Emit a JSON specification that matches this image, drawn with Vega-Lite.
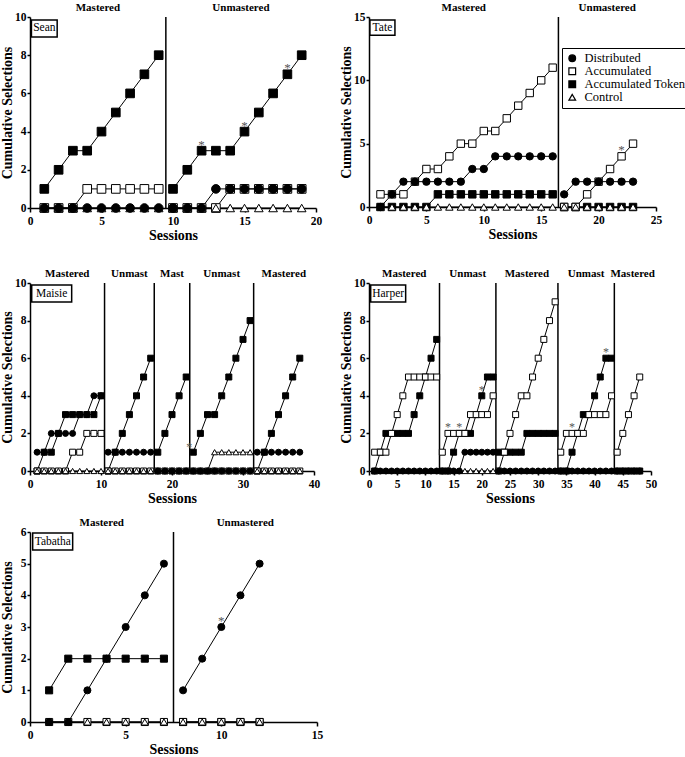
{
"$schema": "https://vega.github.io/schema/vega-lite/v6.json",
"background": "white",
"padding": {"left": 0, "top": 2, "right": 0, "bottom": 0},
"datasets": {
"ph": [
{"p":"Se","t":"Mastered","lo":0,"hi":9.5},{"p":"Se","t":"Unmastered","lo":9.5,"hi":20},
{"p":"Ta","t":"Mastered","lo":0,"hi":16.5},{"p":"Ta","t":"Unmastered","lo":16.5,"hi":25},
{"p":"Ma","t":"Mastered","lo":0,"hi":10.5},{"p":"Ma","t":"Unmast","lo":10.5,"hi":17.5},{"p":"Ma","t":"Mast","lo":17.5,"hi":22.5},{"p":"Ma","t":"Unmast","lo":22.5,"hi":31.5},{"p":"Ma","t":"Mastered","lo":31.5,"hi":40},
{"p":"Ha","t":"Mastered","lo":0,"hi":12.5},{"p":"Ha","t":"Unmast","lo":12.5,"hi":22.5},{"p":"Ha","t":"Mastered","lo":22.5,"hi":33.5},{"p":"Ha","t":"Unmast","lo":33.5,"hi":43.5},{"p":"Ha","t":"Mastered","lo":43.5,"hi":50},
{"p":"Tb","t":"Mastered","lo":0,"hi":7.5},{"p":"Tb","t":"Unmastered","lo":7.5,"hi":15}
],
"Se": [
{"g":1,"s":1,"k":"T","v":1},{"g":1,"s":2,"k":"T","v":2},{"g":1,"s":3,"k":"T","v":3},{"g":1,"s":4,"k":"T","v":3},{"g":1,"s":5,"k":"T","v":4},{"g":1,"s":6,"k":"T","v":5},{"g":1,"s":7,"k":"T","v":6},{"g":1,"s":8,"k":"T","v":7},{"g":1,"s":9,"k":"T","v":8},
{"g":2,"s":10,"k":"T","v":1},{"g":2,"s":11,"k":"T","v":2},{"g":2,"s":12,"k":"T","v":3,"a":1},{"g":2,"s":13,"k":"T","v":3},{"g":2,"s":14,"k":"T","v":3},{"g":2,"s":15,"k":"T","v":4,"a":1},{"g":2,"s":16,"k":"T","v":5},{"g":2,"s":17,"k":"T","v":6},{"g":2,"s":18,"k":"T","v":7,"a":1},{"g":2,"s":19,"k":"T","v":8},
{"g":1,"s":1,"k":"A","v":0},{"g":1,"s":2,"k":"A","v":0},{"g":1,"s":3,"k":"A","v":0},{"g":1,"s":4,"k":"A","v":1},{"g":1,"s":5,"k":"A","v":1},{"g":1,"s":6,"k":"A","v":1},{"g":1,"s":7,"k":"A","v":1},{"g":1,"s":8,"k":"A","v":1},{"g":1,"s":9,"k":"A","v":1},
{"g":2,"s":10,"k":"A","v":0},{"g":2,"s":11,"k":"A","v":0},{"g":2,"s":12,"k":"A","v":0},{"g":2,"s":13,"k":"A","v":0},{"g":2,"s":14,"k":"A","v":1},{"g":2,"s":15,"k":"A","v":1},{"g":2,"s":16,"k":"A","v":1},{"g":2,"s":17,"k":"A","v":1},{"g":2,"s":18,"k":"A","v":1},{"g":2,"s":19,"k":"A","v":1},
{"g":1,"s":1,"k":"C","v":0},{"g":1,"s":2,"k":"C","v":0},{"g":1,"s":3,"k":"C","v":0},{"g":1,"s":4,"k":"C","v":0},{"g":1,"s":5,"k":"C","v":0},{"g":1,"s":6,"k":"C","v":0},{"g":1,"s":7,"k":"C","v":0},{"g":1,"s":8,"k":"C","v":0},{"g":1,"s":9,"k":"C","v":0},
{"g":2,"s":10,"k":"C","v":0},{"g":2,"s":11,"k":"C","v":0},{"g":2,"s":12,"k":"C","v":0},{"g":2,"s":13,"k":"C","v":0},{"g":2,"s":14,"k":"C","v":0},{"g":2,"s":15,"k":"C","v":0},{"g":2,"s":16,"k":"C","v":0},{"g":2,"s":17,"k":"C","v":0},{"g":2,"s":18,"k":"C","v":0},{"g":2,"s":19,"k":"C","v":0},
{"g":1,"s":1,"k":"D","v":0},{"g":1,"s":2,"k":"D","v":0},{"g":1,"s":3,"k":"D","v":0},{"g":1,"s":4,"k":"D","v":0},{"g":1,"s":5,"k":"D","v":0},{"g":1,"s":6,"k":"D","v":0},{"g":1,"s":7,"k":"D","v":0},{"g":1,"s":8,"k":"D","v":0},{"g":1,"s":9,"k":"D","v":0},
{"g":2,"s":10,"k":"D","v":0},{"g":2,"s":11,"k":"D","v":0},{"g":2,"s":12,"k":"D","v":0},{"g":2,"s":13,"k":"D","v":1},{"g":2,"s":14,"k":"D","v":1},{"g":2,"s":15,"k":"D","v":1},{"g":2,"s":16,"k":"D","v":1},{"g":2,"s":17,"k":"D","v":1},{"g":2,"s":18,"k":"D","v":1},{"g":2,"s":19,"k":"D","v":1}
],
"Ta": [
{"g":1,"s":1,"k":"T","v":0},{"g":1,"s":2,"k":"T","v":0},{"g":1,"s":3,"k":"T","v":0},{"g":1,"s":4,"k":"T","v":0},{"g":1,"s":5,"k":"T","v":0},{"g":1,"s":6,"k":"T","v":1},{"g":1,"s":7,"k":"T","v":1},{"g":1,"s":8,"k":"T","v":1},{"g":1,"s":9,"k":"T","v":1},{"g":1,"s":10,"k":"T","v":1},{"g":1,"s":11,"k":"T","v":1},{"g":1,"s":12,"k":"T","v":1},{"g":1,"s":13,"k":"T","v":1},{"g":1,"s":14,"k":"T","v":1},{"g":1,"s":15,"k":"T","v":1},{"g":1,"s":16,"k":"T","v":1},
{"g":2,"s":17,"k":"T","v":0},{"g":2,"s":18,"k":"T","v":0},{"g":2,"s":19,"k":"T","v":0},{"g":2,"s":20,"k":"T","v":0},{"g":2,"s":21,"k":"T","v":0},{"g":2,"s":22,"k":"T","v":0},{"g":2,"s":23,"k":"T","v":0},
{"g":1,"s":1,"k":"A","v":1},{"g":1,"s":2,"k":"A","v":1},{"g":1,"s":3,"k":"A","v":1},{"g":1,"s":4,"k":"A","v":2},{"g":1,"s":5,"k":"A","v":3},{"g":1,"s":6,"k":"A","v":3},{"g":1,"s":7,"k":"A","v":4},{"g":1,"s":8,"k":"A","v":5},{"g":1,"s":9,"k":"A","v":5},{"g":1,"s":10,"k":"A","v":6},{"g":1,"s":11,"k":"A","v":6},{"g":1,"s":12,"k":"A","v":7},{"g":1,"s":13,"k":"A","v":8},{"g":1,"s":14,"k":"A","v":9},{"g":1,"s":15,"k":"A","v":10},{"g":1,"s":16,"k":"A","v":11},
{"g":2,"s":17,"k":"A","v":0},{"g":2,"s":18,"k":"A","v":0},{"g":2,"s":19,"k":"A","v":1},{"g":2,"s":20,"k":"A","v":2},{"g":2,"s":21,"k":"A","v":3},{"g":2,"s":22,"k":"A","v":4,"a":1},{"g":2,"s":23,"k":"A","v":5},
{"g":1,"s":1,"k":"C","v":0},{"g":1,"s":2,"k":"C","v":0},{"g":1,"s":3,"k":"C","v":0},{"g":1,"s":4,"k":"C","v":0},{"g":1,"s":5,"k":"C","v":0},{"g":1,"s":6,"k":"C","v":0},{"g":1,"s":7,"k":"C","v":0},{"g":1,"s":8,"k":"C","v":0},{"g":1,"s":9,"k":"C","v":0},{"g":1,"s":10,"k":"C","v":0},{"g":1,"s":11,"k":"C","v":0},{"g":1,"s":12,"k":"C","v":0},{"g":1,"s":13,"k":"C","v":0},{"g":1,"s":14,"k":"C","v":0},{"g":1,"s":15,"k":"C","v":0},{"g":1,"s":16,"k":"C","v":0},
{"g":2,"s":17,"k":"C","v":0},{"g":2,"s":18,"k":"C","v":0},{"g":2,"s":19,"k":"C","v":0},{"g":2,"s":20,"k":"C","v":0},{"g":2,"s":21,"k":"C","v":0},{"g":2,"s":22,"k":"C","v":0},{"g":2,"s":23,"k":"C","v":0},
{"g":1,"s":1,"k":"D","v":0},{"g":1,"s":2,"k":"D","v":1},{"g":1,"s":3,"k":"D","v":2},{"g":1,"s":4,"k":"D","v":2},{"g":1,"s":5,"k":"D","v":2},{"g":1,"s":6,"k":"D","v":2},{"g":1,"s":7,"k":"D","v":2},{"g":1,"s":8,"k":"D","v":2},{"g":1,"s":9,"k":"D","v":3},{"g":1,"s":10,"k":"D","v":3},{"g":1,"s":11,"k":"D","v":4},{"g":1,"s":12,"k":"D","v":4},{"g":1,"s":13,"k":"D","v":4},{"g":1,"s":14,"k":"D","v":4},{"g":1,"s":15,"k":"D","v":4},{"g":1,"s":16,"k":"D","v":4},
{"g":2,"s":17,"k":"D","v":1},{"g":2,"s":18,"k":"D","v":2},{"g":2,"s":19,"k":"D","v":2},{"g":2,"s":20,"k":"D","v":2},{"g":2,"s":21,"k":"D","v":2},{"g":2,"s":22,"k":"D","v":2},{"g":2,"s":23,"k":"D","v":2}
],
"Ma": [
{"g":1,"s":1,"k":"T","v":0},{"g":1,"s":2,"k":"T","v":1},{"g":1,"s":3,"k":"T","v":1},{"g":1,"s":4,"k":"T","v":2},{"g":1,"s":5,"k":"T","v":3},{"g":1,"s":6,"k":"T","v":3},{"g":1,"s":7,"k":"T","v":3},{"g":1,"s":8,"k":"T","v":3},{"g":1,"s":9,"k":"T","v":3},{"g":1,"s":10,"k":"T","v":4},
{"g":2,"s":11,"k":"T","v":0},{"g":2,"s":12,"k":"T","v":1},{"g":2,"s":13,"k":"T","v":2},{"g":2,"s":14,"k":"T","v":3},{"g":2,"s":15,"k":"T","v":4},{"g":2,"s":16,"k":"T","v":5},{"g":2,"s":17,"k":"T","v":6},
{"g":3,"s":18,"k":"T","v":1},{"g":3,"s":19,"k":"T","v":2},{"g":3,"s":20,"k":"T","v":3},{"g":3,"s":21,"k":"T","v":4},{"g":3,"s":22,"k":"T","v":5},
{"g":4,"s":23,"k":"T","v":1,"a":1},{"g":4,"s":24,"k":"T","v":2},{"g":4,"s":25,"k":"T","v":3},{"g":4,"s":26,"k":"T","v":3},{"g":4,"s":27,"k":"T","v":4},{"g":4,"s":28,"k":"T","v":5},{"g":4,"s":29,"k":"T","v":6},{"g":4,"s":30,"k":"T","v":7},{"g":4,"s":31,"k":"T","v":8},
{"g":5,"s":32,"k":"T","v":0},{"g":5,"s":33,"k":"T","v":1},{"g":5,"s":34,"k":"T","v":2},{"g":5,"s":35,"k":"T","v":3},{"g":5,"s":36,"k":"T","v":4},{"g":5,"s":37,"k":"T","v":5},{"g":5,"s":38,"k":"T","v":6},
{"g":1,"s":1,"k":"A","v":0},{"g":1,"s":2,"k":"A","v":0},{"g":1,"s":3,"k":"A","v":0},{"g":1,"s":4,"k":"A","v":0},{"g":1,"s":5,"k":"A","v":0},{"g":1,"s":6,"k":"A","v":1},{"g":1,"s":7,"k":"A","v":1},{"g":1,"s":8,"k":"A","v":2},{"g":1,"s":9,"k":"A","v":2},{"g":1,"s":10,"k":"A","v":2},
{"g":2,"s":11,"k":"A","v":0},{"g":2,"s":12,"k":"A","v":0},{"g":2,"s":13,"k":"A","v":0},{"g":2,"s":14,"k":"A","v":0},{"g":2,"s":15,"k":"A","v":0},{"g":2,"s":16,"k":"A","v":0},{"g":2,"s":17,"k":"A","v":0},
{"g":3,"s":18,"k":"A","v":0},{"g":3,"s":19,"k":"A","v":0},{"g":3,"s":20,"k":"A","v":0},{"g":3,"s":21,"k":"A","v":0},{"g":3,"s":22,"k":"A","v":0},
{"g":4,"s":23,"k":"A","v":0},{"g":4,"s":24,"k":"A","v":0},{"g":4,"s":25,"k":"A","v":0},{"g":4,"s":26,"k":"A","v":0},{"g":4,"s":27,"k":"A","v":0},{"g":4,"s":28,"k":"A","v":0},{"g":4,"s":29,"k":"A","v":0},{"g":4,"s":30,"k":"A","v":0},{"g":4,"s":31,"k":"A","v":0},
{"g":5,"s":32,"k":"A","v":0},{"g":5,"s":33,"k":"A","v":0},{"g":5,"s":34,"k":"A","v":0},{"g":5,"s":35,"k":"A","v":0},{"g":5,"s":36,"k":"A","v":0},{"g":5,"s":37,"k":"A","v":0},{"g":5,"s":38,"k":"A","v":0},
{"g":1,"s":1,"k":"C","v":0},{"g":1,"s":2,"k":"C","v":0},{"g":1,"s":3,"k":"C","v":0},{"g":1,"s":4,"k":"C","v":0},{"g":1,"s":5,"k":"C","v":0},{"g":1,"s":6,"k":"C","v":0},{"g":1,"s":7,"k":"C","v":0},{"g":1,"s":8,"k":"C","v":0},{"g":1,"s":9,"k":"C","v":0},{"g":1,"s":10,"k":"C","v":0},
{"g":2,"s":11,"k":"C","v":0},{"g":2,"s":12,"k":"C","v":0},{"g":2,"s":13,"k":"C","v":0},{"g":2,"s":14,"k":"C","v":0},{"g":2,"s":15,"k":"C","v":0},{"g":2,"s":16,"k":"C","v":0},{"g":2,"s":17,"k":"C","v":0},
{"g":3,"s":18,"k":"C","v":0},{"g":3,"s":19,"k":"C","v":0},{"g":3,"s":20,"k":"C","v":0},{"g":3,"s":21,"k":"C","v":0},{"g":3,"s":22,"k":"C","v":0},
{"g":4,"s":23,"k":"C","v":0},{"g":4,"s":24,"k":"C","v":0},{"g":4,"s":25,"k":"C","v":0},{"g":4,"s":26,"k":"C","v":1},{"g":4,"s":27,"k":"C","v":1},{"g":4,"s":28,"k":"C","v":1},{"g":4,"s":29,"k":"C","v":1},{"g":4,"s":30,"k":"C","v":1},{"g":4,"s":31,"k":"C","v":1},
{"g":5,"s":32,"k":"C","v":0},{"g":5,"s":33,"k":"C","v":0},{"g":5,"s":34,"k":"C","v":0},{"g":5,"s":35,"k":"C","v":0},{"g":5,"s":36,"k":"C","v":0},{"g":5,"s":37,"k":"C","v":0},{"g":5,"s":38,"k":"C","v":0},
{"g":1,"s":1,"k":"D","v":1},{"g":1,"s":2,"k":"D","v":1},{"g":1,"s":3,"k":"D","v":2},{"g":1,"s":4,"k":"D","v":2},{"g":1,"s":5,"k":"D","v":2},{"g":1,"s":6,"k":"D","v":2},{"g":1,"s":7,"k":"D","v":3},{"g":1,"s":8,"k":"D","v":3},{"g":1,"s":9,"k":"D","v":4},{"g":1,"s":10,"k":"D","v":4},
{"g":2,"s":11,"k":"D","v":1},{"g":2,"s":12,"k":"D","v":1},{"g":2,"s":13,"k":"D","v":1},{"g":2,"s":14,"k":"D","v":1},{"g":2,"s":15,"k":"D","v":1},{"g":2,"s":16,"k":"D","v":1},{"g":2,"s":17,"k":"D","v":1},
{"g":3,"s":18,"k":"D","v":0},{"g":3,"s":19,"k":"D","v":0},{"g":3,"s":20,"k":"D","v":0},{"g":3,"s":21,"k":"D","v":0},{"g":3,"s":22,"k":"D","v":0},
{"g":4,"s":23,"k":"D","v":0},{"g":4,"s":24,"k":"D","v":0},{"g":4,"s":25,"k":"D","v":0},{"g":4,"s":26,"k":"D","v":0},{"g":4,"s":27,"k":"D","v":0},{"g":4,"s":28,"k":"D","v":0},{"g":4,"s":29,"k":"D","v":0},{"g":4,"s":30,"k":"D","v":0},{"g":4,"s":31,"k":"D","v":0},
{"g":5,"s":32,"k":"D","v":1},{"g":5,"s":33,"k":"D","v":1},{"g":5,"s":34,"k":"D","v":1},{"g":5,"s":35,"k":"D","v":1},{"g":5,"s":36,"k":"D","v":1},{"g":5,"s":37,"k":"D","v":1},{"g":5,"s":38,"k":"D","v":1}
],
"Ha": [
{"g":1,"s":1,"k":"T","v":0},{"g":1,"s":2,"k":"T","v":1},{"g":1,"s":3,"k":"T","v":2},{"g":1,"s":4,"k":"T","v":2},{"g":1,"s":5,"k":"T","v":2},{"g":1,"s":6,"k":"T","v":2},{"g":1,"s":7,"k":"T","v":2},{"g":1,"s":8,"k":"T","v":3},{"g":1,"s":9,"k":"T","v":4},{"g":1,"s":10,"k":"T","v":5},{"g":1,"s":11,"k":"T","v":6},{"g":1,"s":12,"k":"T","v":7},
{"g":2,"s":13,"k":"T","v":0},{"g":2,"s":14,"k":"T","v":0},{"g":2,"s":15,"k":"T","v":1},{"g":2,"s":16,"k":"T","v":2},{"g":2,"s":17,"k":"T","v":2},{"g":2,"s":18,"k":"T","v":2},{"g":2,"s":19,"k":"T","v":3},{"g":2,"s":20,"k":"T","v":4,"a":1},{"g":2,"s":21,"k":"T","v":5},{"g":2,"s":22,"k":"T","v":5},
{"g":3,"s":23,"k":"T","v":1},{"g":3,"s":24,"k":"T","v":1},{"g":3,"s":25,"k":"T","v":1},{"g":3,"s":26,"k":"T","v":1},{"g":3,"s":27,"k":"T","v":1},{"g":3,"s":28,"k":"T","v":2},{"g":3,"s":29,"k":"T","v":2},{"g":3,"s":30,"k":"T","v":2},{"g":3,"s":31,"k":"T","v":2},{"g":3,"s":32,"k":"T","v":2},{"g":3,"s":33,"k":"T","v":2},
{"g":4,"s":34,"k":"T","v":0},{"g":4,"s":35,"k":"T","v":0},{"g":4,"s":36,"k":"T","v":1},{"g":4,"s":37,"k":"T","v":2},{"g":4,"s":38,"k":"T","v":3},{"g":4,"s":39,"k":"T","v":3},{"g":4,"s":40,"k":"T","v":4},{"g":4,"s":41,"k":"T","v":5},{"g":4,"s":42,"k":"T","v":6,"a":1},{"g":4,"s":43,"k":"T","v":6},
{"g":5,"s":44,"k":"T","v":0},{"g":5,"s":45,"k":"T","v":0},{"g":5,"s":46,"k":"T","v":0},{"g":5,"s":47,"k":"T","v":0},{"g":5,"s":48,"k":"T","v":0},
{"g":1,"s":1,"k":"A","v":1},{"g":1,"s":2,"k":"A","v":1},{"g":1,"s":3,"k":"A","v":1},{"g":1,"s":4,"k":"A","v":2},{"g":1,"s":5,"k":"A","v":3},{"g":1,"s":6,"k":"A","v":4},{"g":1,"s":7,"k":"A","v":5},{"g":1,"s":8,"k":"A","v":5},{"g":1,"s":9,"k":"A","v":5},{"g":1,"s":10,"k":"A","v":5},{"g":1,"s":11,"k":"A","v":5},{"g":1,"s":12,"k":"A","v":5},
{"g":2,"s":13,"k":"A","v":1},{"g":2,"s":14,"k":"A","v":2,"a":1},{"g":2,"s":15,"k":"A","v":2},{"g":2,"s":16,"k":"A","v":2,"a":1},{"g":2,"s":17,"k":"A","v":2},{"g":2,"s":18,"k":"A","v":3},{"g":2,"s":19,"k":"A","v":3},{"g":2,"s":20,"k":"A","v":3},{"g":2,"s":21,"k":"A","v":3},{"g":2,"s":22,"k":"A","v":4},
{"g":3,"s":23,"k":"A","v":0},{"g":3,"s":24,"k":"A","v":1},{"g":3,"s":25,"k":"A","v":2},{"g":3,"s":26,"k":"A","v":3},{"g":3,"s":27,"k":"A","v":4},{"g":3,"s":28,"k":"A","v":4},{"g":3,"s":29,"k":"A","v":5},{"g":3,"s":30,"k":"A","v":6},{"g":3,"s":31,"k":"A","v":7},{"g":3,"s":32,"k":"A","v":8},{"g":3,"s":33,"k":"A","v":9},
{"g":4,"s":34,"k":"A","v":1},{"g":4,"s":35,"k":"A","v":2},{"g":4,"s":36,"k":"A","v":2,"a":1},{"g":4,"s":37,"k":"A","v":2},{"g":4,"s":38,"k":"A","v":2},{"g":4,"s":39,"k":"A","v":3},{"g":4,"s":40,"k":"A","v":3},{"g":4,"s":41,"k":"A","v":3},{"g":4,"s":42,"k":"A","v":3},{"g":4,"s":43,"k":"A","v":4},
{"g":5,"s":44,"k":"A","v":1},{"g":5,"s":45,"k":"A","v":2},{"g":5,"s":46,"k":"A","v":3},{"g":5,"s":47,"k":"A","v":4},{"g":5,"s":48,"k":"A","v":5},
{"g":1,"s":1,"k":"C","v":0},{"g":1,"s":2,"k":"C","v":0},{"g":1,"s":3,"k":"C","v":0},{"g":1,"s":4,"k":"C","v":0},{"g":1,"s":5,"k":"C","v":0},{"g":1,"s":6,"k":"C","v":0},{"g":1,"s":7,"k":"C","v":0},{"g":1,"s":8,"k":"C","v":0},{"g":1,"s":9,"k":"C","v":0},{"g":1,"s":10,"k":"C","v":0},{"g":1,"s":11,"k":"C","v":0},{"g":1,"s":12,"k":"C","v":0},
{"g":2,"s":13,"k":"C","v":0},{"g":2,"s":14,"k":"C","v":0},{"g":2,"s":15,"k":"C","v":0},{"g":2,"s":16,"k":"C","v":0},{"g":2,"s":17,"k":"C","v":0},{"g":2,"s":18,"k":"C","v":0},{"g":2,"s":19,"k":"C","v":0},{"g":2,"s":20,"k":"C","v":0},{"g":2,"s":21,"k":"C","v":0},{"g":2,"s":22,"k":"C","v":0},
{"g":3,"s":23,"k":"C","v":0},{"g":3,"s":24,"k":"C","v":0},{"g":3,"s":25,"k":"C","v":0},{"g":3,"s":26,"k":"C","v":0},{"g":3,"s":27,"k":"C","v":0},{"g":3,"s":28,"k":"C","v":0},{"g":3,"s":29,"k":"C","v":0},{"g":3,"s":30,"k":"C","v":0},{"g":3,"s":31,"k":"C","v":0},{"g":3,"s":32,"k":"C","v":0},{"g":3,"s":33,"k":"C","v":0},
{"g":4,"s":34,"k":"C","v":0},{"g":4,"s":35,"k":"C","v":0},{"g":4,"s":36,"k":"C","v":0},{"g":4,"s":37,"k":"C","v":0},{"g":4,"s":38,"k":"C","v":0},{"g":4,"s":39,"k":"C","v":0},{"g":4,"s":40,"k":"C","v":0},{"g":4,"s":41,"k":"C","v":0},{"g":4,"s":42,"k":"C","v":0},{"g":4,"s":43,"k":"C","v":0},
{"g":5,"s":44,"k":"C","v":0},{"g":5,"s":45,"k":"C","v":0},{"g":5,"s":46,"k":"C","v":0},{"g":5,"s":47,"k":"C","v":0},{"g":5,"s":48,"k":"C","v":0},
{"g":1,"s":1,"k":"D","v":0},{"g":1,"s":2,"k":"D","v":0},{"g":1,"s":3,"k":"D","v":0},{"g":1,"s":4,"k":"D","v":0},{"g":1,"s":5,"k":"D","v":0},{"g":1,"s":6,"k":"D","v":0},{"g":1,"s":7,"k":"D","v":0},{"g":1,"s":8,"k":"D","v":0},{"g":1,"s":9,"k":"D","v":0},{"g":1,"s":10,"k":"D","v":0},{"g":1,"s":11,"k":"D","v":0},{"g":1,"s":12,"k":"D","v":0},
{"g":2,"s":13,"k":"D","v":0},{"g":2,"s":14,"k":"D","v":0},{"g":2,"s":15,"k":"D","v":0},{"g":2,"s":16,"k":"D","v":0},{"g":2,"s":17,"k":"D","v":1},{"g":2,"s":18,"k":"D","v":1},{"g":2,"s":19,"k":"D","v":1},{"g":2,"s":20,"k":"D","v":1},{"g":2,"s":21,"k":"D","v":1},{"g":2,"s":22,"k":"D","v":1},
{"g":3,"s":23,"k":"D","v":0},{"g":3,"s":24,"k":"D","v":0},{"g":3,"s":25,"k":"D","v":0},{"g":3,"s":26,"k":"D","v":0},{"g":3,"s":27,"k":"D","v":0},{"g":3,"s":28,"k":"D","v":0},{"g":3,"s":29,"k":"D","v":0},{"g":3,"s":30,"k":"D","v":0},{"g":3,"s":31,"k":"D","v":0},{"g":3,"s":32,"k":"D","v":0},{"g":3,"s":33,"k":"D","v":0},
{"g":4,"s":34,"k":"D","v":0},{"g":4,"s":35,"k":"D","v":0},{"g":4,"s":36,"k":"D","v":0},{"g":4,"s":37,"k":"D","v":0},{"g":4,"s":38,"k":"D","v":0},{"g":4,"s":39,"k":"D","v":0},{"g":4,"s":40,"k":"D","v":0},{"g":4,"s":41,"k":"D","v":0},{"g":4,"s":42,"k":"D","v":0},{"g":4,"s":43,"k":"D","v":0},
{"g":5,"s":44,"k":"D","v":0},{"g":5,"s":45,"k":"D","v":0},{"g":5,"s":46,"k":"D","v":0},{"g":5,"s":47,"k":"D","v":0},{"g":5,"s":48,"k":"D","v":0}
],
"Tb": [
{"g":1,"s":1,"k":"T","v":1},{"g":1,"s":2,"k":"T","v":2},{"g":1,"s":3,"k":"T","v":2},{"g":1,"s":4,"k":"T","v":2},{"g":1,"s":5,"k":"T","v":2},{"g":1,"s":6,"k":"T","v":2},{"g":1,"s":7,"k":"T","v":2},
{"g":2,"s":8,"k":"T","v":0},{"g":2,"s":9,"k":"T","v":0},{"g":2,"s":10,"k":"T","v":0},{"g":2,"s":11,"k":"T","v":0},{"g":2,"s":12,"k":"T","v":0},
{"g":1,"s":1,"k":"A","v":0},{"g":1,"s":2,"k":"A","v":0},{"g":1,"s":3,"k":"A","v":0},{"g":1,"s":4,"k":"A","v":0},{"g":1,"s":5,"k":"A","v":0},{"g":1,"s":6,"k":"A","v":0},{"g":1,"s":7,"k":"A","v":0},
{"g":2,"s":8,"k":"A","v":0},{"g":2,"s":9,"k":"A","v":0},{"g":2,"s":10,"k":"A","v":0},{"g":2,"s":11,"k":"A","v":0},{"g":2,"s":12,"k":"A","v":0},
{"g":1,"s":1,"k":"C","v":0},{"g":1,"s":2,"k":"C","v":0},{"g":1,"s":3,"k":"C","v":0},{"g":1,"s":4,"k":"C","v":0},{"g":1,"s":5,"k":"C","v":0},{"g":1,"s":6,"k":"C","v":0},{"g":1,"s":7,"k":"C","v":0},
{"g":2,"s":8,"k":"C","v":0},{"g":2,"s":9,"k":"C","v":0},{"g":2,"s":10,"k":"C","v":0},{"g":2,"s":11,"k":"C","v":0},{"g":2,"s":12,"k":"C","v":0},
{"g":1,"s":1,"k":"D","v":0},{"g":1,"s":2,"k":"D","v":0},{"g":1,"s":3,"k":"D","v":1},{"g":1,"s":4,"k":"D","v":2},{"g":1,"s":5,"k":"D","v":3},{"g":1,"s":6,"k":"D","v":4},{"g":1,"s":7,"k":"D","v":5},
{"g":2,"s":8,"k":"D","v":1},{"g":2,"s":9,"k":"D","v":2},{"g":2,"s":10,"k":"D","v":3,"a":1},{"g":2,"s":11,"k":"D","v":4},{"g":2,"s":12,"k":"D","v":5}
]
},
"resolve": {"scale": {"shape": "independent", "fill": "independent", "stroke": "independent"}, "legend": {"shape": "independent", "fill": "independent", "stroke": "independent"}},
"spacing": 11,
"vconcat": [
{
"columns": 2, "bounds": "flush", "align": "each", "spacing": {"row": 75, "column": 53},
"resolve": {"scale": {"shape": "independent", "fill": "independent", "stroke": "independent"}, "legend": {"shape": "independent", "fill": "independent", "stroke": "independent"}},
"concat": [
{
"width": 286, "height": 191,
"layer": [
{"data": {"name": "ph"}, "transform": [{"filter": "datum.p=='Se' && datum.lo>0"}], "mark": {"type": "rule", "color": "black", "strokeWidth": 1.5}, "encoding": {"x": {"field": "lo", "type": "quantitative", "scale": {"domain": [0,20], "nice": false}, "axis": {"title": "Sessions", "values": [0,5,10,15,20]}}}},
{"data": {"name": "Se"}, "mark": {"type": "line", "color": "black", "strokeWidth": 1}, "encoding": {"x": {"field": "s", "type": "quantitative", "scale": {"domain": [0,20], "nice": false}, "axis": {"title": "Sessions", "values": [0,5,10,15,20]}}, "y": {"field": "v", "type": "quantitative", "scale": {"domain": [0,10], "nice": false}, "axis": {"title": "Cumulative Selections", "values": [0,2,4,6,8,10]}}, "detail": [{"field": "k", "type": "nominal"}, {"field": "g", "type": "nominal"}]}},
{"data": {"name": "Se"}, "mark": {"type": "point", "color": "black", "stroke": "black", "strokeWidth": 1, "opacity": 1, "size": 75}, "encoding": {"x": {"field": "s", "type": "quantitative", "scale": {"domain": [0,20], "nice": false}, "axis": {"title": "Sessions", "values": [0,5,10,15,20]}}, "y": {"field": "v", "type": "quantitative", "scale": {"domain": [0,10], "nice": false}, "axis": {"title": "Cumulative Selections", "values": [0,2,4,6,8,10]}}, "shape": {"field": "k", "type": "nominal", "scale": {"domain": ["D","A","T","C"], "range": ["circle","square","square","triangle-up"]}, "legend": null}, "fill": {"field": "k", "type": "nominal", "scale": {"domain": ["D","A","T","C"], "range": ["black","white","black","white"]}, "legend": null}}},
{"data": {"name": "Se"}, "transform": [{"filter": "datum.a==1"}], "mark": {"type": "text", "text": "*", "dy": -2, "baseline": "alphabetic", "fontSize": 13, "color": "#555555"}, "encoding": {"x": {"field": "s", "type": "quantitative", "scale": {"domain": [0,20], "nice": false}, "axis": {"title": "Sessions", "values": [0,5,10,15,20]}}, "y": {"field": "v", "type": "quantitative", "scale": {"domain": [0,10], "nice": false}, "axis": {"title": "Cumulative Selections", "values": [0,2,4,6,8,10]}}}},
{"data": {"name": "ph"}, "transform": [{"filter": "datum.p=='Se'"}, {"calculate": "(datum.lo+datum.hi)/2", "as": "mid"}], "mark": {"type": "text", "fontWeight": "bold", "fontSize": 11, "baseline": "alphabetic", "dy": -6}, "encoding": {"x": {"field": "mid", "type": "quantitative", "scale": {"domain": [0,20], "nice": false}, "axis": {"title": "Sessions", "values": [0,5,10,15,20]}}, "y": {"datum": 10, "type": "quantitative", "scale": {"domain": [0,10], "nice": false}, "axis": {"title": "Cumulative Selections", "values": [0,2,4,6,8,10]}}, "text": {"field": "t"}}},
{"data": {"values": [{"n": "Sean"}]}, "mark": {"type": "rect", "fill": "white", "stroke": "black", "strokeWidth": 1.5}, "encoding": {"x": {"datum": 0.1, "type": "quantitative", "scale": {"domain": [0,20], "nice": false}, "axis": {"title": "Sessions", "values": [0,5,10,15,20]}}, "x2": {"datum": 1.9}, "y": {"datum": 8.95, "type": "quantitative", "scale": {"domain": [0,10], "nice": false}, "axis": {"title": "Cumulative Selections", "values": [0,2,4,6,8,10]}}, "y2": {"datum": 9.84}}},
{"data": {"values": [{"n": "Sean"}]}, "mark": {"type": "text", "fontSize": 11.5}, "encoding": {"x": {"datum": 1.0, "type": "quantitative", "scale": {"domain": [0,20], "nice": false}, "axis": {"title": "Sessions", "values": [0,5,10,15,20]}}, "y": {"datum": 9.4, "type": "quantitative", "scale": {"domain": [0,10], "nice": false}, "axis": {"title": "Cumulative Selections", "values": [0,2,4,6,8,10]}}, "text": {"field": "n"}}}
]
},
{
"width": 287, "height": 190,
"layer": [
{"data": {"name": "ph"}, "transform": [{"filter": "datum.p=='Ta' && datum.lo>0"}], "mark": {"type": "rule", "color": "black", "strokeWidth": 1.5}, "encoding": {"x": {"field": "lo", "type": "quantitative", "scale": {"domain": [0,25], "nice": false}, "axis": {"title": "Sessions", "values": [0,5,10,15,20,25]}}}},
{"data": {"name": "Ta"}, "mark": {"type": "line", "color": "black", "strokeWidth": 1}, "encoding": {"x": {"field": "s", "type": "quantitative", "scale": {"domain": [0,25], "nice": false}, "axis": {"title": "Sessions", "values": [0,5,10,15,20,25]}}, "y": {"field": "v", "type": "quantitative", "scale": {"domain": [0,15], "nice": false}, "axis": {"title": "Cumulative Selections", "values": [0,5,10,15]}}, "detail": [{"field": "k", "type": "nominal"}, {"field": "g", "type": "nominal"}]}},
{"data": {"name": "Ta"}, "mark": {"type": "point", "strokeWidth": 1, "opacity": 1, "size": 55}, "encoding": {"x": {"field": "s", "type": "quantitative", "scale": {"domain": [0,25], "nice": false}, "axis": {"title": "Sessions", "values": [0,5,10,15,20,25]}}, "y": {"field": "v", "type": "quantitative", "scale": {"domain": [0,15], "nice": false}, "axis": {"title": "Cumulative Selections", "values": [0,5,10,15]}},
 "shape": {"field": "k", "type": "nominal", "scale": {"domain": ["D","A","T","C"], "range": ["circle","square","square","triangle-up"]}, "legend": {"title": null, "orient": "none", "legendX": 193, "legendY": 31, "labelFontSize": 12.5, "labelExpr": "datum.label=='D'?'Distributed':datum.label=='A'?'Accumulated':datum.label=='T'?'Accumulated Token':'Control'"}},
 "fill": {"field": "k", "type": "nominal", "scale": {"domain": ["D","A","T","C"], "range": ["black","white","black","white"]}, "legend": {"title": null, "orient": "none", "legendX": 193, "legendY": 31, "labelFontSize": 12.5, "labelExpr": "datum.label=='D'?'Distributed':datum.label=='A'?'Accumulated':datum.label=='T'?'Accumulated Token':'Control'"}},
 "stroke": {"field": "k", "type": "nominal", "scale": {"domain": ["D","A","T","C"], "range": ["black","black","black","black"]}, "legend": {"title": null, "orient": "none", "legendX": 193, "legendY": 31, "labelFontSize": 12.5, "labelExpr": "datum.label=='D'?'Distributed':datum.label=='A'?'Accumulated':datum.label=='T'?'Accumulated Token':'Control'"}}}},
{"data": {"name": "Ta"}, "transform": [{"filter": "datum.a==1"}], "mark": {"type": "text", "text": "*", "dy": -2, "baseline": "alphabetic", "fontSize": 13, "color": "#555555"}, "encoding": {"x": {"field": "s", "type": "quantitative", "scale": {"domain": [0,25], "nice": false}, "axis": {"title": "Sessions", "values": [0,5,10,15,20,25]}}, "y": {"field": "v", "type": "quantitative", "scale": {"domain": [0,15], "nice": false}, "axis": {"title": "Cumulative Selections", "values": [0,5,10,15]}}}},
{"data": {"name": "ph"}, "transform": [{"filter": "datum.p=='Ta'"}, {"calculate": "(datum.lo+datum.hi)/2", "as": "mid"}], "mark": {"type": "text", "fontWeight": "bold", "fontSize": 11, "baseline": "alphabetic", "dy": -6}, "encoding": {"x": {"field": "mid", "type": "quantitative", "scale": {"domain": [0,25], "nice": false}, "axis": {"title": "Sessions", "values": [0,5,10,15,20,25]}}, "y": {"datum": 15, "type": "quantitative", "scale": {"domain": [0,15], "nice": false}, "axis": {"title": "Cumulative Selections", "values": [0,5,10,15]}}, "text": {"field": "t"}}},
{"data": {"values": [{"n": "Tate"}]}, "mark": {"type": "rect", "fill": "white", "stroke": "black", "strokeWidth": 1.5}, "encoding": {"x": {"datum": 0.08, "type": "quantitative", "scale": {"domain": [0,25], "nice": false}, "axis": {"title": "Sessions", "values": [0,5,10,15,20,25]}}, "x2": {"datum": 2.26}, "y": {"datum": 13.55, "type": "quantitative", "scale": {"domain": [0,15], "nice": false}, "axis": {"title": "Cumulative Selections", "values": [0,5,10,15]}}, "y2": {"datum": 14.76}}},
{"data": {"values": [{"n": "Tate"}]}, "mark": {"type": "text", "fontSize": 11.5}, "encoding": {"x": {"datum": 1.17, "type": "quantitative", "scale": {"domain": [0,25], "nice": false}, "axis": {"title": "Sessions", "values": [0,5,10,15,20,25]}}, "y": {"datum": 14.15, "type": "quantitative", "scale": {"domain": [0,15], "nice": false}, "axis": {"title": "Cumulative Selections", "values": [0,5,10,15]}}, "text": {"field": "n"}}}
]
},
{
"width": 284, "height": 188,
"layer": [
{"data": {"name": "ph"}, "transform": [{"filter": "datum.p=='Ma' && datum.lo>0"}], "mark": {"type": "rule", "color": "black", "strokeWidth": 1.5}, "encoding": {"x": {"field": "lo", "type": "quantitative", "scale": {"domain": [0,40], "nice": false}, "axis": {"title": "Sessions", "values": [0,10,20,30,40]}}}},
{"data": {"name": "Ma"}, "mark": {"type": "line", "color": "black", "strokeWidth": 1}, "encoding": {"x": {"field": "s", "type": "quantitative", "scale": {"domain": [0,40], "nice": false}, "axis": {"title": "Sessions", "values": [0,10,20,30,40]}}, "y": {"field": "v", "type": "quantitative", "scale": {"domain": [0,10], "nice": false}, "axis": {"title": "Cumulative Selections", "values": [0,2,4,6,8,10]}}, "detail": [{"field": "k", "type": "nominal"}, {"field": "g", "type": "nominal"}]}},
{"data": {"name": "Ma"}, "mark": {"type": "point", "color": "black", "stroke": "black", "strokeWidth": 1, "opacity": 1, "size": 36}, "encoding": {"x": {"field": "s", "type": "quantitative", "scale": {"domain": [0,40], "nice": false}, "axis": {"title": "Sessions", "values": [0,10,20,30,40]}}, "y": {"field": "v", "type": "quantitative", "scale": {"domain": [0,10], "nice": false}, "axis": {"title": "Cumulative Selections", "values": [0,2,4,6,8,10]}}, "shape": {"field": "k", "type": "nominal", "scale": {"domain": ["D","A","T","C"], "range": ["circle","square","square","triangle-up"]}, "legend": null}, "fill": {"field": "k", "type": "nominal", "scale": {"domain": ["D","A","T","C"], "range": ["black","white","black","white"]}, "legend": null}}},
{"data": {"name": "Ma"}, "transform": [{"filter": "datum.a==1"}], "mark": {"type": "text", "text": "*", "dy": -1, "dx": -4, "baseline": "alphabetic", "fontSize": 12, "color": "#555555"}, "encoding": {"x": {"field": "s", "type": "quantitative", "scale": {"domain": [0,40], "nice": false}, "axis": {"title": "Sessions", "values": [0,10,20,30,40]}}, "y": {"field": "v", "type": "quantitative", "scale": {"domain": [0,10], "nice": false}, "axis": {"title": "Cumulative Selections", "values": [0,2,4,6,8,10]}}}},
{"data": {"name": "ph"}, "transform": [{"filter": "datum.p=='Ma'"}, {"calculate": "(datum.lo+datum.hi)/2", "as": "mid"}], "mark": {"type": "text", "fontWeight": "bold", "fontSize": 11, "baseline": "alphabetic", "dy": -6}, "encoding": {"x": {"field": "mid", "type": "quantitative", "scale": {"domain": [0,40], "nice": false}, "axis": {"title": "Sessions", "values": [0,10,20,30,40]}}, "y": {"datum": 10, "type": "quantitative", "scale": {"domain": [0,10], "nice": false}, "axis": {"title": "Cumulative Selections", "values": [0,2,4,6,8,10]}}, "text": {"field": "t"}}},
{"data": {"values": [{"n": "Maisie"}]}, "mark": {"type": "rect", "fill": "white", "stroke": "black", "strokeWidth": 1.5}, "encoding": {"x": {"datum": 0.24, "type": "quantitative", "scale": {"domain": [0,40], "nice": false}, "axis": {"title": "Sessions", "values": [0,10,20,30,40]}}, "x2": {"datum": 5.87}, "y": {"datum": 8.99, "type": "quantitative", "scale": {"domain": [0,10], "nice": false}, "axis": {"title": "Cumulative Selections", "values": [0,2,4,6,8,10]}}, "y2": {"datum": 9.89}}},
{"data": {"values": [{"n": "Maisie"}]}, "mark": {"type": "text", "fontSize": 11.5}, "encoding": {"x": {"datum": 3.05, "type": "quantitative", "scale": {"domain": [0,40], "nice": false}, "axis": {"title": "Sessions", "values": [0,10,20,30,40]}}, "y": {"datum": 9.44, "type": "quantitative", "scale": {"domain": [0,10], "nice": false}, "axis": {"title": "Cumulative Selections", "values": [0,2,4,6,8,10]}}, "text": {"field": "n"}}}
]
},
{
"width": 282, "height": 188,
"layer": [
{"data": {"name": "ph"}, "transform": [{"filter": "datum.p=='Ha' && datum.lo>0"}], "mark": {"type": "rule", "color": "black", "strokeWidth": 1.5}, "encoding": {"x": {"field": "lo", "type": "quantitative", "scale": {"domain": [0,50], "nice": false}, "axis": {"title": "Sessions", "values": [0,5,10,15,20,25,30,35,40,45,50]}}}},
{"data": {"name": "Ha"}, "mark": {"type": "line", "color": "black", "strokeWidth": 1}, "encoding": {"x": {"field": "s", "type": "quantitative", "scale": {"domain": [0,50], "nice": false}, "axis": {"title": "Sessions", "values": [0,5,10,15,20,25,30,35,40,45,50]}}, "y": {"field": "v", "type": "quantitative", "scale": {"domain": [0,10], "nice": false}, "axis": {"title": "Cumulative Selections", "values": [0,2,4,6,8,10]}}, "detail": [{"field": "k", "type": "nominal"}, {"field": "g", "type": "nominal"}]}},
{"data": {"name": "Ha"}, "mark": {"type": "point", "color": "black", "stroke": "black", "strokeWidth": 1, "opacity": 1, "size": 36}, "encoding": {"x": {"field": "s", "type": "quantitative", "scale": {"domain": [0,50], "nice": false}, "axis": {"title": "Sessions", "values": [0,5,10,15,20,25,30,35,40,45,50]}}, "y": {"field": "v", "type": "quantitative", "scale": {"domain": [0,10], "nice": false}, "axis": {"title": "Cumulative Selections", "values": [0,2,4,6,8,10]}}, "shape": {"field": "k", "type": "nominal", "scale": {"domain": ["D","A","T","C"], "range": ["circle","square","square","triangle-up"]}, "legend": null}, "fill": {"field": "k", "type": "nominal", "scale": {"domain": ["D","A","T","C"], "range": ["black","white","black","white"]}, "legend": null}}},
{"data": {"name": "Ha"}, "transform": [{"filter": "datum.a==1"}], "mark": {"type": "text", "text": "*", "dy": -2, "baseline": "alphabetic", "fontSize": 12, "color": "#555555"}, "encoding": {"x": {"field": "s", "type": "quantitative", "scale": {"domain": [0,50], "nice": false}, "axis": {"title": "Sessions", "values": [0,5,10,15,20,25,30,35,40,45,50]}}, "y": {"field": "v", "type": "quantitative", "scale": {"domain": [0,10], "nice": false}, "axis": {"title": "Cumulative Selections", "values": [0,2,4,6,8,10]}}}},
{"data": {"name": "ph"}, "transform": [{"filter": "datum.p=='Ha'"}, {"calculate": "(datum.lo+datum.hi)/2", "as": "mid"}], "mark": {"type": "text", "fontWeight": "bold", "fontSize": 11, "baseline": "alphabetic", "dy": -6}, "encoding": {"x": {"field": "mid", "type": "quantitative", "scale": {"domain": [0,50], "nice": false}, "axis": {"title": "Sessions", "values": [0,5,10,15,20,25,30,35,40,45,50]}}, "y": {"datum": 10, "type": "quantitative", "scale": {"domain": [0,10], "nice": false}, "axis": {"title": "Cumulative Selections", "values": [0,2,4,6,8,10]}}, "text": {"field": "t"}}},
{"data": {"values": [{"n": "Harper"}]}, "mark": {"type": "rect", "fill": "white", "stroke": "black", "strokeWidth": 1.5}, "encoding": {"x": {"datum": 0.3, "type": "quantitative", "scale": {"domain": [0,50], "nice": false}, "axis": {"title": "Sessions", "values": [0,5,10,15,20,25,30,35,40,45,50]}}, "x2": {"datum": 6.5}, "y": {"datum": 8.99, "type": "quantitative", "scale": {"domain": [0,10], "nice": false}, "axis": {"title": "Cumulative Selections", "values": [0,2,4,6,8,10]}}, "y2": {"datum": 9.89}}},
{"data": {"values": [{"n": "Harper"}]}, "mark": {"type": "text", "fontSize": 11.5}, "encoding": {"x": {"datum": 3.4, "type": "quantitative", "scale": {"domain": [0,50], "nice": false}, "axis": {"title": "Sessions", "values": [0,5,10,15,20,25,30,35,40,45,50]}}, "y": {"datum": 9.44, "type": "quantitative", "scale": {"domain": [0,10], "nice": false}, "axis": {"title": "Cumulative Selections", "values": [0,2,4,6,8,10]}}, "text": {"field": "n"}}}
]
}
]
},
{
"width": 287, "height": 190,
"layer": [
{"data": {"name": "ph"}, "transform": [{"filter": "datum.p=='Tb' && datum.lo>0"}], "mark": {"type": "rule", "color": "black", "strokeWidth": 1.5}, "encoding": {"x": {"field": "lo", "type": "quantitative", "scale": {"domain": [0,15], "nice": false}, "axis": {"title": "Sessions", "values": [0,5,10,15]}}}},
{"data": {"name": "Tb"}, "mark": {"type": "line", "color": "black", "strokeWidth": 1}, "encoding": {"x": {"field": "s", "type": "quantitative", "scale": {"domain": [0,15], "nice": false}, "axis": {"title": "Sessions", "values": [0,5,10,15]}}, "y": {"field": "v", "type": "quantitative", "scale": {"domain": [0,6], "nice": false}, "axis": {"title": "Cumulative Selections", "values": [0,1,2,3,4,5,6], "titlePadding": 6}}, "detail": [{"field": "k", "type": "nominal"}, {"field": "g", "type": "nominal"}]}},
{"data": {"name": "Tb"}, "mark": {"type": "point", "color": "black", "stroke": "black", "strokeWidth": 1, "opacity": 1, "size": 50}, "encoding": {"x": {"field": "s", "type": "quantitative", "scale": {"domain": [0,15], "nice": false}, "axis": {"title": "Sessions", "values": [0,5,10,15]}}, "y": {"field": "v", "type": "quantitative", "scale": {"domain": [0,6], "nice": false}, "axis": {"title": "Cumulative Selections", "values": [0,1,2,3,4,5,6], "titlePadding": 6}}, "shape": {"field": "k", "type": "nominal", "scale": {"domain": ["D","A","T","C"], "range": ["circle","square","square","triangle-up"]}, "legend": null}, "fill": {"field": "k", "type": "nominal", "scale": {"domain": ["D","A","T","C"], "range": ["black","white","black","white"]}, "legend": null}}},
{"data": {"name": "Tb"}, "transform": [{"filter": "datum.a==1"}], "mark": {"type": "text", "text": "*", "dy": -2, "baseline": "alphabetic", "fontSize": 13, "color": "#555555"}, "encoding": {"x": {"field": "s", "type": "quantitative", "scale": {"domain": [0,15], "nice": false}, "axis": {"title": "Sessions", "values": [0,5,10,15]}}, "y": {"field": "v", "type": "quantitative", "scale": {"domain": [0,6], "nice": false}, "axis": {"title": "Cumulative Selections", "values": [0,1,2,3,4,5,6], "titlePadding": 6}}}},
{"data": {"name": "ph"}, "transform": [{"filter": "datum.p=='Tb'"}, {"calculate": "(datum.lo+datum.hi)/2", "as": "mid"}], "mark": {"type": "text", "fontWeight": "bold", "fontSize": 11, "baseline": "alphabetic", "dy": -6}, "encoding": {"x": {"field": "mid", "type": "quantitative", "scale": {"domain": [0,15], "nice": false}, "axis": {"title": "Sessions", "values": [0,5,10,15]}}, "y": {"datum": 6, "type": "quantitative", "scale": {"domain": [0,6], "nice": false}, "axis": {"title": "Cumulative Selections", "values": [0,1,2,3,4,5,6], "titlePadding": 6}}, "text": {"field": "t"}}},
{"data": {"values": [{"n": "Tabatha"}]}, "mark": {"type": "rect", "fill": "white", "stroke": "black", "strokeWidth": 1.5}, "encoding": {"x": {"datum": 0.14, "type": "quantitative", "scale": {"domain": [0,15], "nice": false}, "axis": {"title": "Sessions", "values": [0,5,10,15]}}, "x2": {"datum": 2.23}, "y": {"datum": 5.43, "type": "quantitative", "scale": {"domain": [0,6], "nice": false}, "axis": {"title": "Cumulative Selections", "values": [0,1,2,3,4,5,6], "titlePadding": 6}}, "y2": {"datum": 5.97}}},
{"data": {"values": [{"n": "Tabatha"}]}, "mark": {"type": "text", "fontSize": 11.5}, "encoding": {"x": {"datum": 1.19, "type": "quantitative", "scale": {"domain": [0,15], "nice": false}, "axis": {"title": "Sessions", "values": [0,5,10,15]}}, "y": {"datum": 5.7, "type": "quantitative", "scale": {"domain": [0,6], "nice": false}, "axis": {"title": "Cumulative Selections", "values": [0,1,2,3,4,5,6], "titlePadding": 6}}, "text": {"field": "n"}}}
]
}
],
"config": {
"view": {"stroke": null},
"font": "Liberation Serif",
"axis": {"domainColor": "black", "domainWidth": 1.5, "tickColor": "black", "tickWidth": 1.5, "tickSize": 4, "labelFont": "Liberation Serif", "labelFontWeight": "bold", "labelFontSize": 11.5, "labelColor": "black", "labelFlush": false, "labelOverlap": false, "titleFont": "Liberation Serif", "titleFontWeight": "bold", "titleFontSize": 14, "titleColor": "black", "grid": false},
"axisX": {"labelPadding": 3, "titlePadding": 2},
"axisY": {"labelPadding": 1, "tickSize": 3, "titlePadding": 0},
"legend": {"labelFont": "Liberation Serif", "labelFontSize": 12.5, "labelColor": "black", "strokeColor": "black", "padding": 4, "fillColor": "white", "symbolSize": 45, "symbolStrokeWidth": 1.2, "symbolOpacity": 1, "rowPadding": 0, "labelOffset": 6},
"text": {"font": "Liberation Serif", "color": "black"}
}
}
